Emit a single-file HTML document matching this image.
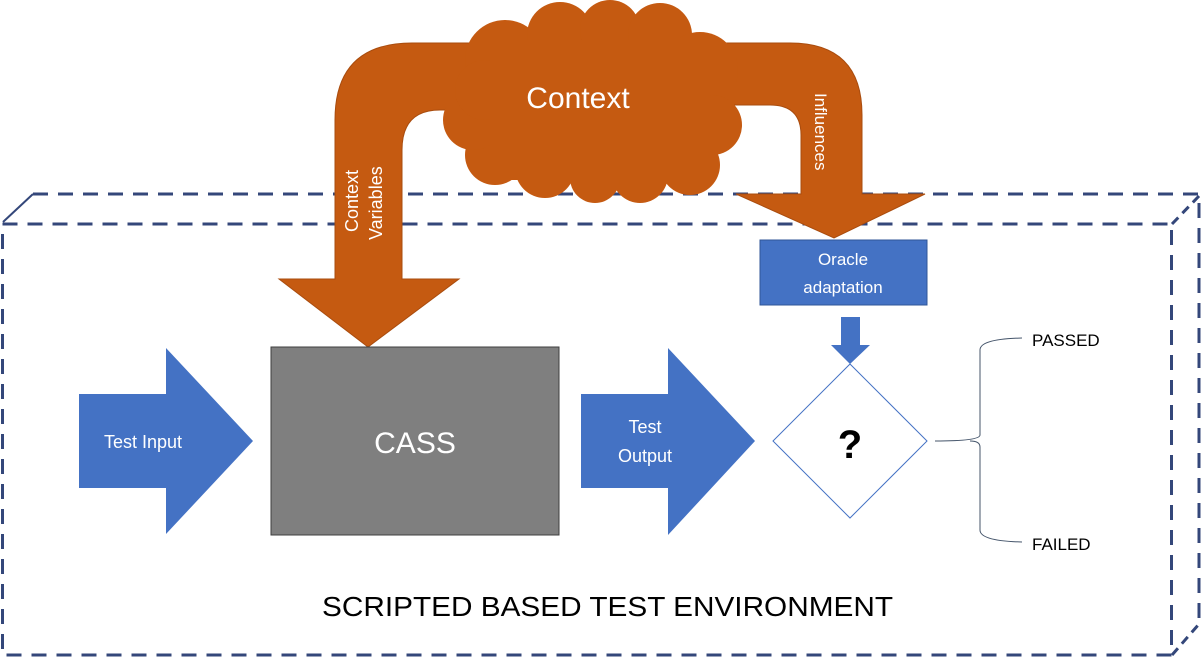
<!DOCTYPE html>
<html><head><meta charset="utf-8"><style>html,body{margin:0;padding:0;background:#fff}svg{display:block}</style></head>
<body>
<svg width="1202" height="657" viewBox="0 0 1202 657" xmlns="http://www.w3.org/2000/svg" font-family="Liberation Sans, sans-serif">
<g stroke="#34477a" stroke-width="3" stroke-dasharray="15,10" fill="none">
<rect x="2.5" y="224" width="1169" height="431"/>
<polyline points="33,194 1199,194 1199,622"/>
<line x1="3" y1="222" x2="33" y2="194" stroke-dasharray="none" stroke-width="2"/>
<line x1="1172" y1="224" x2="1199" y2="196" stroke-dasharray="9,6"/>
<line x1="1172" y1="655" x2="1199" y2="624" stroke-dasharray="9,6"/>
</g>
<g fill="#c55a11" stroke="#a94c0e" stroke-width="1">
<path d="M335,279 L335,120 Q335,43 412,43 L500,43 L500,110 L440,110 Q402,110 402,150 L402,279 L459,279 L368,347 L279,279 Z"/>
<path d="M700,43 L790,43 Q862,43 862,115 L862,194 L925,194 L834,238 L736,194 L801,194 L801,135 Q801,105 770,105 L700,105 Z"/>
</g>
<g fill="#c55a11" stroke="none">
<circle cx="505" cy="60" r="40"/><circle cx="560" cy="35" r="33"/><circle cx="610" cy="30" r="30"/><circle cx="660" cy="35" r="32"/><circle cx="700" cy="70" r="38"/>
<circle cx="712" cy="125" r="30"/><circle cx="690" cy="165" r="30"/><circle cx="640" cy="175" r="28"/><circle cx="595" cy="178" r="25"/><circle cx="545" cy="168" r="30"/>
<circle cx="495" cy="155" r="30"/><circle cx="473" cy="120" r="30"/><circle cx="485" cy="90" r="30"/>
<rect x="490" y="40" width="220" height="140"/>
</g>
<text x="578" y="108" font-size="30" fill="#fff" text-anchor="middle">Context</text>
<text transform="translate(358,232) rotate(-90)" font-size="18" fill="#fff">Context</text>
<text transform="translate(382,240) rotate(-90)" font-size="18" fill="#fff">Variables</text>
<text transform="translate(815,93) rotate(90)" font-size="17" fill="#fff">Influences</text>
<rect x="760" y="240" width="167" height="65" fill="#4472c4" stroke="#2f5597"/>
<text x="843" y="265" font-size="17" fill="#fff" text-anchor="middle">Oracle</text>
<text x="843" y="293" font-size="17" fill="#fff" text-anchor="middle">adaptation</text>
<path d="M841,317 L860,317 L860,345 L870,345 L850,364 L831,345 L841,345 Z" fill="#4472c4"/>
<polygon points="850,364 927,441 850,518 773,441" fill="#fff" stroke="#4472c4" stroke-width="1"/>
<text x="850" y="458" font-size="40" font-weight="bold" text-anchor="middle" fill="#000">?</text>
<path d="M79,394 L166,394 L166,348 L253,441 L166,534 L166,488 L79,488 Z" fill="#4472c4"/>
<text x="143" y="448" font-size="18" fill="#fff" text-anchor="middle">Test Input</text>
<rect x="271" y="347" width="288" height="188" fill="#7f7f7f" stroke="#3f3f3f" stroke-width="1"/>
<text x="415" y="453" font-size="30" fill="#fff" text-anchor="middle">CASS</text>
<path d="M581,394 L668,394 L668,348 L755,441 L668,535 L668,488 L581,488 Z" fill="#4472c4"/>
<text x="645" y="433" font-size="18" fill="#fff" text-anchor="middle">Test</text>
<text x="645" y="462" font-size="18" fill="#fff" text-anchor="middle">Output</text>
<path d="M935,441 Q980,441 980,435 L980,350 Q980,339 1022,338 M980,447 Q980,441 970,441 M980,447 L980,530 Q980,541 1022,542" fill="none" stroke="#44546a" stroke-width="1"/>
<text x="1032" y="346" font-size="17" fill="#000">PASSED</text>
<text x="1032" y="550" font-size="17" fill="#000">FAILED</text>
<text x="322" y="616" font-size="28" fill="#000" textLength="571" lengthAdjust="spacingAndGlyphs">SCRIPTED BASED TEST ENVIRONMENT</text>
</svg>
</body></html>
